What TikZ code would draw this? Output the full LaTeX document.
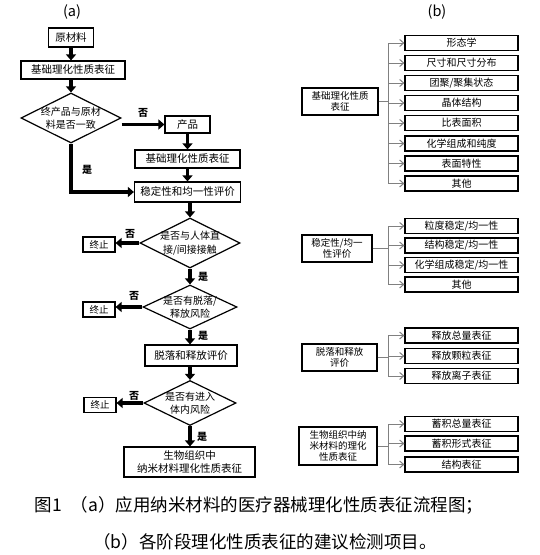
\documentclass[tikz,border=0pt]{standalone}
\usepackage{fontspec}
\setmainfont{Noto Sans CJK SC}
\usetikzlibrary{arrows.meta,shapes.geometric}
\begin{document}
\begin{tikzpicture}[x=1pt,y=-1pt,
  box/.style={draw, line width=1.2pt, inner sep=0pt, align=center, font=\fontsize{10.5}{13}\selectfont},
  dia/.style={draw, diamond, line width=1.2pt, inner sep=0pt},
  diatext/.style={align=center, inner sep=0pt, font=\fontsize{10}{13.5}\selectfont},
  arr/.style={line width=3.5pt, -{Triangle[width=10pt,length=6pt]}},
  yn/.style={font=\bfseries\fontsize{10}{10}\selectfont, inner sep=0pt},
  stopbox/.style={box, minimum width=32pt, minimum height=15pt, font=\fontsize{9.5}{11}\selectfont},
  lbox/.style={draw, line width=1.2pt, inner sep=0pt, align=center, font=\fontsize{9.5}{11}\selectfont},
  rbox/.style={draw, line width=1.2pt, minimum width=113pt, minimum height=15pt, inner sep=0pt, font=\fontsize{10}{11}\selectfont},
  gline/.style={draw=black!50, line width=1pt},
  garr/.style={gline, -{Straight Barb[length=4pt,width=7pt]}},
  ttl/.style={font=\fontsize{14.5}{14.5}\selectfont},
  capt/.style={font=\fontsize{17.5}{19}\selectfont, inner sep=0pt}
]
\useasboundingbox (0,0) rectangle (539,555);

% titles
\node[ttl] (ta) at (72,12) {(a)};
\node[ttl] (tb) at (437,12) {(b)};

% ---- (a) flow chart ----
\node[box, minimum width=45pt, minimum height=19pt] (raw) at (71,37.5) {原材料};
\node[box, minimum width=104pt, minimum height=18pt] (base1) at (73,70) {基础理化性质表征};
\node[dia, minimum width=100pt, minimum height=50pt] (d1) at (71,118) {};
\node[diatext] (d1t) at (71,118) {终产品与原材\\料是否一致};
\node[box, minimum width=45pt, minimum height=17pt] (prod) at (187.5,124.5) {产品};
\node[box, minimum width=105pt, minimum height=18pt] (base2) at (187.5,159) {基础理化性质表征};
\node[box, minimum width=106pt, minimum height=20pt] (stab) at (187.5,192) {稳定性和均一性评价};
\node[dia, minimum width=100pt, minimum height=50pt] (d2) at (190,243) {};
\node[diatext] (d2t) at (190,243) {是否与人体直\\接/间接接触};
\node[stopbox] (s1) at (99,244.5) {终止};
\node[dia, minimum width=94pt, minimum height=44pt] (d3) at (190,307) {};
\node[diatext] (d3t) at (190,307) {是否有脱落/\\释放风险};
\node[stopbox] (s2) at (99,309.5) {终止};
\node[box, minimum width=92pt, minimum height=21pt] (shed) at (191,355.5) {脱落和释放评价};
\node[dia, minimum width=92pt, minimum height=45pt] (d4) at (190,403) {};
\node[diatext] (d4t) at (190,403) {是否有进入\\体内风险};
\node[stopbox] (s3) at (100,405) {终止};
\node[box, minimum width=131pt, minimum height=30pt] (fin) at (189.5,462) {生物组织中\\纳米材料理化性质表征};

\draw[arr] (raw.south) -- (raw.south |- base1.north);
\draw[arr] (base1.south -| d1.north) -- (d1.north);
\draw[arr] (d1.east |- prod.west) -- (prod.west);
\draw[arr] (prod.south) -- (prod.south |- base2.north);
\draw[arr] (base2.south) -- (base2.south |- stab.north);
\draw[arr] (d1.south) |- (stab.west);
\draw[arr] (stab.south -| d2.north) -- (d2.north);
\draw[arr] (d2.west) -- (d2.west -| s1.east);
\draw[arr] (d2.south) -- (d3.north);
\draw[arr] (d3.west) -- (d3.west -| s2.east);
\draw[arr] (d3.south) -- (d3.south |- shed.north);
\draw[arr] (shed.south -| d4.north) -- (d4.north);
\draw[arr] (d4.west) -- (d4.west -| s3.east);
\draw[arr] (d4.south) -- (d4.south |- fin.north);

\node[yn] (n1) at (143,113) {否};
\node[yn] (y1) at (87,170) {是};
\node[yn] (n2) at (130,234) {否};
\node[yn] (y2) at (203,277) {是};
\node[yn] (n3) at (134,296) {否};
\node[yn] (y3) at (203,336) {是};
\node[yn] (n4) at (134,396) {否};
\node[yn] (y4) at (202,437) {是};

% ---- (b) items ----
\coordinate (bx) at (388,0);

% group 1
\node[lbox, minimum width=76pt, minimum height=27pt] (L1) at (340,101.5) {基础理化性质\\表征};
\node[rbox] (a1) at (461.5,43) {形态学};
\node[rbox] (a2) at (461.5,63) {尺寸和尺寸分布};
\node[rbox] (a3) at (461.5,83) {团聚/聚集状态};
\node[rbox] (a4) at (461.5,103) {晶体结构};
\node[rbox] (a5) at (461.5,123) {比表面积};
\node[rbox] (a6) at (461.5,143.5) {化学组成和纯度};
\node[rbox] (a7) at (461.5,163.5) {表面特性};
\node[rbox] (a8) at (461.5,183.5) {其他};
\draw[gline] (L1.east) -- (L1.east -| bx);
\draw[gline] (a1.west -| bx) -- (a8.west -| bx);
\foreach \n in {a1,a2,a3,a4,a5,a6,a7,a8} \draw[garr] (\n.west -| bx) -- (\n.west);

% group 2
\node[lbox, minimum width=70pt, minimum height=27pt] (L2) at (337,248.5) {稳定性/均一\\性评价};
\node[rbox] (b1) at (461.5,226) {粒度稳定/均一性};
\node[rbox] (b2) at (461.5,245.5) {结构稳定/均一性};
\node[rbox] (b3) at (461.5,265) {化学组成稳定/均一性};
\node[rbox] (b4) at (461.5,284.5) {其他};
\draw[gline] (L2.east) -- (L2.east -| bx);
\draw[gline] (b1.west -| bx) -- (b4.west -| bx);
\foreach \n in {b1,b2,b3,b4} \draw[garr] (\n.west -| bx) -- (\n.west);

% group 3
\node[lbox, minimum width=75pt, minimum height=27pt] (L3) at (339.5,357.5) {脱落和释放\\评价};
\node[rbox] (c1) at (461.5,335.5) {释放总量表征};
\node[rbox] (c2) at (461.5,356) {释放颗粒表征};
\node[rbox] (c3) at (461.5,376) {释放离子表征};
\draw[gline] (L3.east) -- (L3.east -| bx);
\draw[gline] (c1.west -| bx) -- (c3.west -| bx);
\foreach \n in {c1,c2,c3} \draw[garr] (\n.west -| bx) -- (\n.west);

% group 4
\node[lbox, minimum width=78pt, minimum height=38pt] (L4) at (338,446) {生物组织中纳\\米材料的理化\\性质表征};
\node[rbox] (e1) at (461.5,424) {蓄积总量表征};
\node[rbox] (e2) at (461.5,443.5) {蓄积形式表征};
\node[rbox] (e3) at (461.5,464.5) {结构表征};
\draw[gline] (L4.east) -- (L4.east -| bx);
\draw[gline] (e1.west -| bx) -- (e3.west -| bx);
\foreach \n in {e1,e2,e3} \draw[garr] (\n.west -| bx) -- (\n.west);

% caption
\node[capt] (cap1) at (259,505) {图1\enspace（a）应用纳米材料的医疗器械理化性质表征流程图；};
\node[capt] (cap2) at (265,542) {（b）各阶段理化性质表征的建议检测项目。};
\end{tikzpicture}
\end{document}
